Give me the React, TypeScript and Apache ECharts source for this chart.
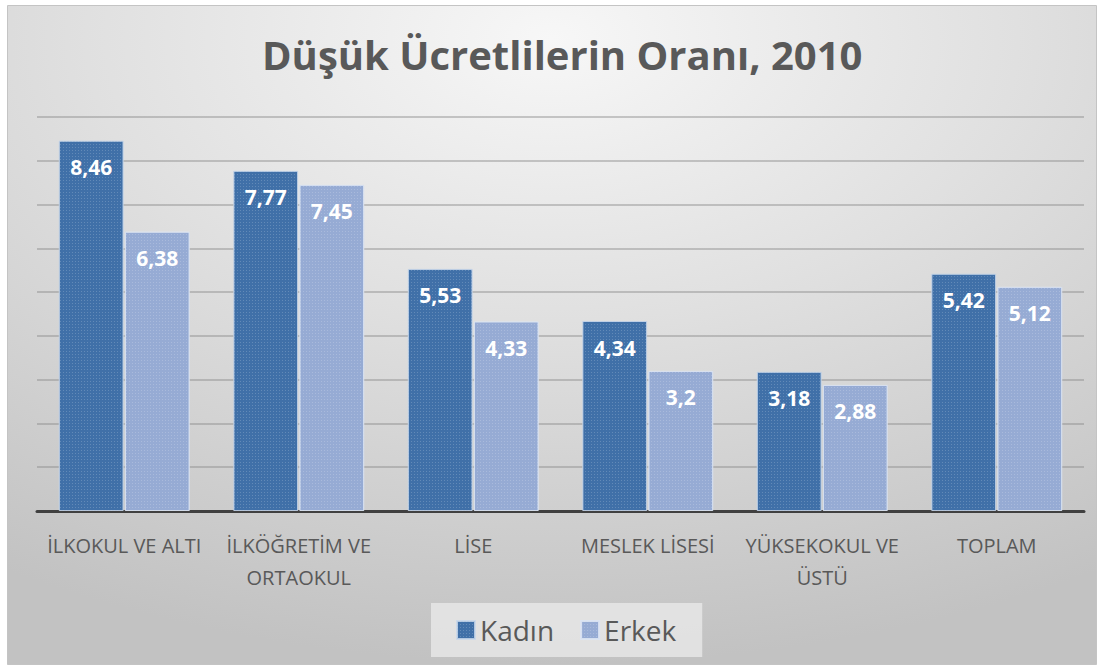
import React, { useEffect, useRef } from "react";
import * as echarts from "echarts";

const categories = [
  "İLKOKUL VE ALTI",
  "İLKÖĞRETİM VE\nORTAOKUL",
  "LİSE",
  "MESLEK LİSESİ",
  "YÜKSEKOKUL VE\nÜSTÜ",
  "TOPLAM",
];
const kadin = [8.46, 7.77, 5.53, 4.34, 3.18, 5.42];
const erkek = [6.38, 7.45, 4.33, 3.2, 2.88, 5.12];
const seriesNames = ["Kadın", "Erkek"];
const titleText = "Düşük Ücretlilerin Oranı, 2010";

const FONT = "'Open Sans', 'Noto Sans', sans-serif";

export default function App() {
  const ref = useRef<HTMLDivElement>(null);
  useEffect(() => {
    if (!ref.current) return;
    const chart = echarts.init(ref.current, null, { renderer: "svg" });
    const decal = {
      symbol: "rect",
      symbolSize: 1,
      dashArrayX: [1, 2],
      dashArrayY: [1, 2],
      color: "rgba(255,255,255,0.18)",
    };
    const label = {
      show: true,
      position: "insideTop",
      distance: 16,
      color: "#ffffff",
      fontSize: 21,
      fontWeight: "bold",
      fontFamily: FONT,
      formatter: (p: any) => String(p.value).replace(".", ","),
    };
    chart.setOption({
      animation: false,
      graphic: [
        {
          type: "rect",
          z: -10,
          silent: true,
          shape: { x: 7.5, y: 5.5, width: 1089, height: 659 },
          style: {
            fill: new echarts.graphic.RadialGradient(0.5, 0.05, 0.95, [
              { offset: 0, color: "#F7F7F7" },
              { offset: 0.45, color: "#E0E0E0" },
              { offset: 1, color: "#C2C2C2" },
            ]),
            stroke: "#C4C4C4",
            lineWidth: 1,
          },
        },
      ],
      title: {
        text: titleText,
        left: 257,
        top: 29,
        textStyle: {
          color: "#595959",
          fontSize: 40,
          fontWeight: "bold",
          fontFamily: FONT,
        },
      },
      legend: {
        data: seriesNames,
        left: 431,
        top: 603,
        padding: [13, 26, 13, 25],
        backgroundColor: "rgba(235,235,235,0.75)",
        itemWidth: 18,
        itemHeight: 18,
        itemGap: 26,
        icon: "rect",
        textStyle: { color: "#595959", fontSize: 28, fontFamily: FONT },
      },
      grid: { left: 37, right: 20, top: 117, bottom: 159, containLabel: false },
      xAxis: {
        type: "category",
        data: categories,
        axisLine: { lineStyle: { color: "#404040", width: 3 } },
        axisTick: { show: false },
        axisLabel: {
          interval: 0,
          color: "#595959",
          fontSize: 20,
          fontFamily: FONT,
          margin: 18,
          lineHeight: 32,
        },
      },
      yAxis: {
        type: "value",
        min: 0,
        max: 9,
        interval: 1,
        axisLabel: { show: false },
        axisLine: { show: false },
        axisTick: { show: false },
        splitLine: { lineStyle: { color: "rgba(140,140,140,0.45)", width: 2 } },
      },
      series: [
        {
          name: seriesNames[0],
          type: "bar",
          data: kadin,
          barGap: "2%",
          barCategoryGap: "25%",
          itemStyle: {
            color: "#4070A8",
            borderColor: "rgba(200,215,235,0.6)",
            borderWidth: 1,
            decal,
          },
          label,
        },
        {
          name: seriesNames[1],
          type: "bar",
          data: erkek,
          itemStyle: {
            color: "#96ABD4",
            borderColor: "rgba(220,228,242,0.7)",
            borderWidth: 1,
            decal,
          },
          label,
        },
      ],
    });
    return () => chart.dispose();
  }, []);
  return (
    <div
      ref={ref}
      style={{ position: "absolute", left: 0, top: 0, width: 1104, height: 670 }}
    />
  );
}
